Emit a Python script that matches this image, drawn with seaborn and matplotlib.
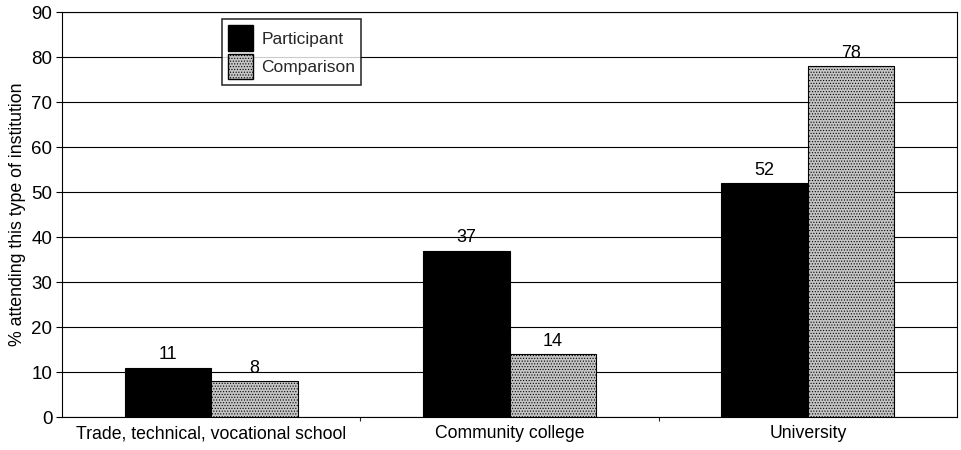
import matplotlib
matplotlib.use("Agg")
import matplotlib.pyplot as plt
import seaborn as sns
import pandas as pd
from matplotlib.ticker import FixedLocator

# Share of each group attending each type of institution (%)
categories = ["Trade, technical, vocational school", "Community college", "University"]
groups = ["Participant", "Comparison"]
participant = [11, 37, 52]
comparison = [8, 14, 78]
y_ticks = [0, 10, 20, 30, 40, 50, 60, 70, 80, 90]

df = pd.DataFrame({
    "institution": categories * 2,
    "group": [groups[0]] * 3 + [groups[1]] * 3,
    "value": participant + comparison,
})

sns.set_theme(style="white")
plt.rcParams["font.family"] = ["Liberation Sans", "DejaVu Sans"]
plt.rcParams["hatch.linewidth"] = 0.5
plt.rcParams["hatch.color"] = "#6e6e6e"

fig = plt.figure(figsize=(9.61, 4.5), dpi=100)
ax = fig.add_axes([0.0645, 0.0733, 0.9315, 0.9])

palette = {"Participant": "#000000", "Comparison": "#c4c4c4"}
sns.barplot(data=df, x="institution", y="value", hue="group", order=categories,
            hue_order=groups, palette=palette, width=0.58, edgecolor="black",
            linewidth=0.8, saturation=1, ax=ax, zorder=3)

# fine stipple on the comparison bars
for patch in ax.patches:
    fc = patch.get_facecolor()
    if fc[0] > 0.5:
        patch.set_hatch("......")

for container in ax.containers:
    ax.bar_label(container, fmt="%d", padding=3, fontsize=13, color="black")

ax.set_ylim(0, 90)
ax.set_xlim(-0.5, 2.5)
ax.set_yticks(y_ticks)
ax.yaxis.grid(True, color="black", linewidth=0.8)
ax.set_axisbelow(True)
ax.set_xlabel("")
ax.set_ylabel("% attending this type of institution", fontsize=12.8, color="black",
              labelpad=4)
ax.tick_params(axis="y", which="major", length=4, width=0.8, colors="black",
               labelsize=13.5, left=True, direction="out", pad=3)
ax.tick_params(axis="x", which="major", length=0, labelsize=12.7, colors="black", pad=6)
ax.xaxis.set_minor_locator(FixedLocator([0.5, 1.5]))
ax.tick_params(axis="x", which="minor", length=3, width=0.8, bottom=True, direction="out")
for side in ax.spines.values():
    side.set_color("black")
    side.set_linewidth(0.8)

handles, labels = ax.get_legend_handles_labels()
leg = ax.legend(handles, labels, loc="upper left", bbox_to_anchor=(0.179, 0.982),
                frameon=True, fancybox=False, fontsize=12.5, handlelength=1.45,
                handleheight=1.9, borderpad=0.35, labelspacing=0.15, handletextpad=0.45,
                borderaxespad=0)
leg.get_frame().set_edgecolor("black")
leg.get_frame().set_linewidth(1.2)
for h in leg.legend_handles:
    h.set_edgecolor("black")
    h.set_linewidth(1.0)

fig.savefig("out.png", dpi=100)
